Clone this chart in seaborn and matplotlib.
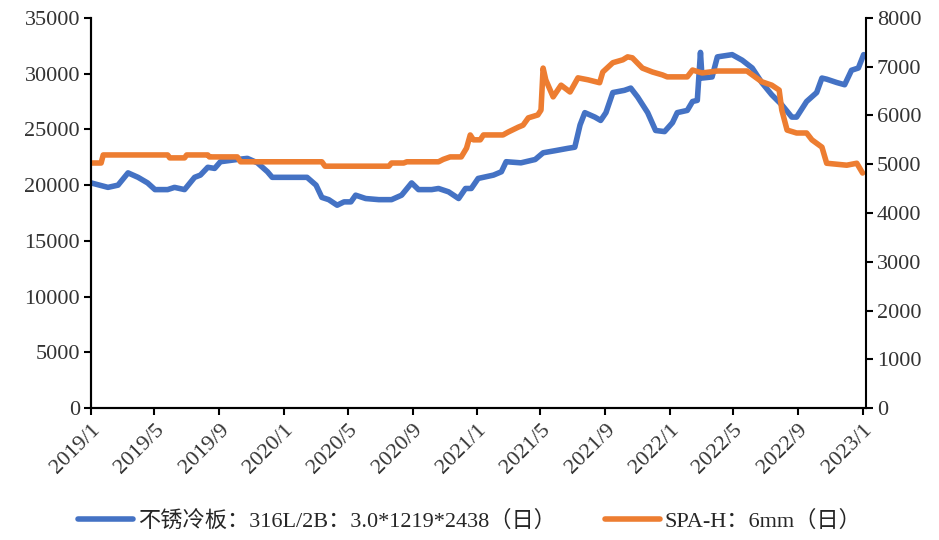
import pandas as pd
import numpy as np
import matplotlib
matplotlib.use("Agg")
import matplotlib.pyplot as plt
import matplotlib.dates as mdates
from matplotlib.ticker import FuncFormatter
import seaborn as sns

# stainless cold-rolled plate 316L/2B (left axis)
steel_dates = ["2019-01-01", "2019-02-02", "2019-02-21", "2019-03-12", "2019-03-31", "2019-04-18",
               "2019-05-02", "2019-05-26", "2019-06-08", "2019-06-27", "2019-07-16", "2019-07-27",
               "2019-08-10", "2019-08-23", "2019-09-03", "2019-10-05", "2019-10-24", "2019-11-12",
               "2019-12-01", "2019-12-10", "2020-02-14", "2020-03-02", "2020-03-13", "2020-03-26",
               "2020-04-11", "2020-04-24", "2020-05-07", "2020-05-16", "2020-06-04", "2020-06-29",
               "2020-07-23", "2020-08-11", "2020-08-30", "2020-09-12", "2020-10-07", "2020-10-20",
               "2020-11-08", "2020-11-27", "2020-12-10", "2020-12-21", "2021-01-03", "2021-02-01",
               "2021-02-16", "2021-02-25", "2021-03-25", "2021-04-21", "2021-05-06", "2021-05-30",
               "2021-06-22", "2021-07-05", "2021-07-15", "2021-07-24", "2021-08-12", "2021-08-23",
               "2021-09-02", "2021-09-15", "2021-10-07", "2021-10-19", "2021-11-01", "2021-11-20",
               "2021-12-05", "2021-12-22", "2022-01-06", "2022-01-15", "2022-02-03", "2022-02-13",
               "2022-02-22", "2022-02-28", "2022-03-03", "2022-03-22", "2022-04-01", "2022-04-29",
               "2022-05-18", "2022-06-06", "2022-06-24", "2022-07-13", "2022-08-01", "2022-08-20",
               "2022-08-29", "2022-09-17", "2022-10-06", "2022-10-16", "2022-10-25", "2022-11-13",
               "2022-11-28", "2022-12-11", "2022-12-24", "2023-01-03"]
steel_vals = [20200, 19800, 20000, 21100, 20700, 20200,
              19600, 19600, 19800, 19600, 20700, 20900,
              21600, 21500, 22100, 22300, 22400, 22000,
              21200, 20700, 20700, 20000, 18900, 18700,
              18200, 18500, 18500, 19100, 18800, 18700,
              18700, 19100, 20200, 19600, 19600, 19700,
              19400, 18800, 19700, 19700, 20600, 20900,
              21200, 22100, 22000, 22300, 22900, 23100,
              23300, 23400, 25400, 26500, 26100, 25800,
              26500, 28300, 28500, 28700, 27900, 26500,
              24900, 24800, 25600, 26500, 26700, 27500,
              27600, 31900, 29600, 29700, 31500, 31700,
              31200, 30500, 29200, 28100, 27200, 26100,
              26100, 27500, 28300, 29600, 29500, 29200,
              29000, 30300, 30500, 31700]

# SPA-H 6mm (right axis)
spah_dates = ["2019-01-01", "2019-01-20", "2019-01-24", "2019-05-26", "2019-05-30", "2019-06-27",
              "2019-07-01", "2019-08-10", "2019-08-13", "2019-10-05", "2019-10-11", "2020-03-13",
              "2020-03-19", "2020-07-18", "2020-07-23", "2020-08-15", "2020-08-21", "2020-10-20",
              "2020-10-29", "2020-11-11", "2020-12-02", "2020-12-12", "2020-12-19", "2020-12-25",
              "2021-01-07", "2021-01-13", "2021-02-19", "2021-03-01", "2021-03-20", "2021-03-29",
              "2021-04-08", "2021-04-26", "2021-05-02", "2021-05-06", "2021-05-11", "2021-05-25",
              "2021-06-09", "2021-06-26", "2021-07-11", "2021-07-30", "2021-08-21", "2021-08-27",
              "2021-09-15", "2021-10-04", "2021-10-13", "2021-10-22", "2021-11-10", "2021-11-29",
              "2021-12-18", "2021-12-27", "2022-02-03", "2022-02-13", "2022-03-03", "2022-04-01",
              "2022-05-27", "2022-06-24", "2022-07-13", "2022-07-27", "2022-08-01", "2022-08-11",
              "2022-08-29", "2022-09-17", "2022-09-27", "2022-10-16", "2022-10-25", "2022-12-02",
              "2022-12-21", "2023-01-01"]
spah_vals = [5025, 5025, 5190, 5190, 5130, 5130,
             5190, 5190, 5150, 5150, 5050, 5050,
             4960, 4960, 5025, 5025, 5050, 5050,
             5100, 5150, 5150, 5330, 5600, 5500,
             5500, 5600, 5600, 5660, 5760, 5800,
             5950, 6010, 6110, 6970, 6730, 6380,
             6620, 6480, 6770, 6730, 6670, 6890,
             7080, 7140, 7200, 7180, 6970, 6890,
             6830, 6790, 6790, 6930, 6870, 6910,
             6910, 6690, 6620, 6520, 6110, 5700,
             5640, 5640, 5500, 5350, 5020, 4980,
             5020, 4820]

label_steel = "不锈冷板：316L/2B：3.0*1219*2438（日）"
label_spah = "SPA-H：6mm（日）"

steel = pd.DataFrame({"date": pd.to_datetime(steel_dates), "value": steel_vals})
spah = pd.DataFrame({"date": pd.to_datetime(spah_dates), "value": spah_vals})

sns.set_style("white")
plt.rcParams['font.family'] = ['Liberation Serif', 'Noto Sans CJK SC']
plt.rcParams['font.size'] = 16

fig = plt.figure(figsize=(9.39, 5.4), dpi=100)
ax = fig.add_axes([0.097, 0.244, 0.825, 0.723])
ax2 = ax.twinx()

sns.lineplot(data=steel, x="date", y="value", ax=ax, color="#4472C4", linewidth=4, label=label_steel, legend=False)
sns.lineplot(data=spah, x="date", y="value", ax=ax2, color="#ED7D31", linewidth=4, label=label_spah, legend=False)

ax.set_ylim(0, 35000)
ax.set_yticks(range(0, 35001, 5000))
ax2.set_ylim(0, 8000)
ax2.set_yticks(range(0, 8001, 1000))
ax.set_xlim(pd.Timestamp("2019-01-01"), pd.Timestamp("2023-01-07"))

ax.xaxis.set_major_locator(mdates.MonthLocator(bymonth=[1, 5, 9]))
ax.xaxis.set_major_formatter(FuncFormatter(lambda v, p: f"{mdates.num2date(v).year}/{mdates.num2date(v).month}"))
for lab in ax.get_xticklabels():
    lab.set_rotation(45)
    lab.set_ha("right")
    lab.set_rotation_mode("anchor")

for a in (ax, ax2):
    a.set_xlabel("")
    a.set_ylabel("")
    a.spines["top"].set_visible(False)
    for s in ("left", "right", "bottom"):
        a.spines[s].set_color("black")
        a.spines[s].set_linewidth(1.5)
    a.tick_params(axis="both", direction="out", length=5, width=1.5, color="black", labelsize=16, labelcolor="#333333")
ax.tick_params(axis="y", left=True, pad=3)
ax.tick_params(axis="x", bottom=True, pad=4)
ax2.tick_params(axis="y", right=True, pad=3)
ax.spines["right"].set_visible(False)

h1, l1 = ax.get_legend_handles_labels()
h2, l2 = ax2.get_legend_handles_labels()
fig.legend(h1 + h2, l1 + l2, loc="center", bbox_to_anchor=(0.5, 0.035), ncol=2, frameon=False,
           fontsize=16, handlelength=2.5, handletextpad=0.2, columnspacing=2.2)

plt.savefig("out.png", dpi=100)
plt.close()
